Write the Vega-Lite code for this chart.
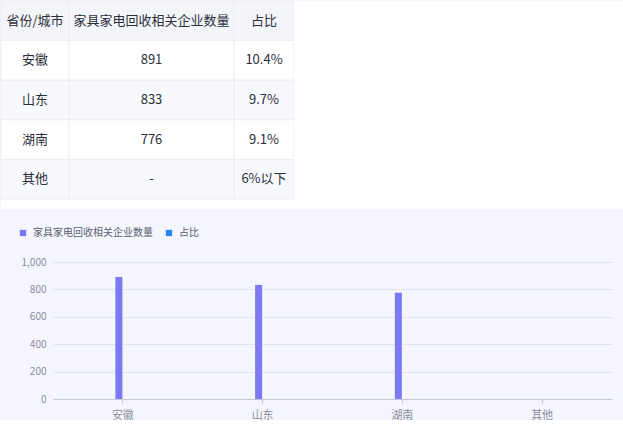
{
  "$schema": "https://vega.github.io/schema/vega-lite/v6.json",
  "background": "#f5f6fd",
  "padding": 0,
  "datasets": {
    "table": [
      {"行": 0, "省份": "省份/城市", "数量": "家具家电回收相关企业数量", "占比": "占比"},
      {"行": 1, "省份": "安徽", "数量": "891", "占比": "10.4%"},
      {"行": 2, "省份": "山东", "数量": "833", "占比": "9.7%"},
      {"行": 3, "省份": "湖南", "数量": "776", "占比": "9.1%"},
      {"行": 4, "省份": "其他", "数量": "-", "占比": "6%以下"}
    ],
    "bars": [
      {"省份": "安徽", "系列": "家具家电回收相关企业数量", "企业数量": 891},
      {"省份": "山东", "系列": "家具家电回收相关企业数量", "企业数量": 833},
      {"省份": "湖南", "系列": "家具家电回收相关企业数量", "企业数量": 776},
      {"省份": "其他", "系列": "家具家电回收相关企业数量", "企业数量": null}
    ]
  },
  "spacing": 19,
  "vconcat": [
    {
      "bounds": "flush",
      "spacing": 0,
      "hconcat": [
        {
          "width": 68, "height": 208,
          "view": {"fill": "#ffffff", "stroke": null},
          "data": {"name": "table"},
          "encoding": {"y": {"field": "行", "type": "ordinal", "axis": null, "scale": {"range": [0, 198], "paddingInner": 0, "paddingOuter": 0}}},
          "layer": [
            {"mark": {"type": "rect", "stroke": "#eceef4", "strokeWidth": 1},
             "encoding": {"fill": {"condition": [{"test": "datum['行'] == 0", "value": "#f4f5f9"}, {"test": "datum['行'] % 2 == 0", "value": "#f8f9fc"}], "value": "#ffffff"}}},
            {"mark": {"type": "text", "fontSize": 13, "color": "#2b2f3a"}, "encoding": {"text": {"field": "省份"}}}
          ]
        },
        {
          "width": 165, "height": 208,
          "view": {"fill": "#ffffff", "stroke": null},
          "data": {"name": "table"},
          "encoding": {"y": {"field": "行", "type": "ordinal", "axis": null, "scale": {"range": [0, 198], "paddingInner": 0, "paddingOuter": 0}}},
          "layer": [
            {"mark": {"type": "rect", "stroke": "#eceef4", "strokeWidth": 1},
             "encoding": {"fill": {"condition": [{"test": "datum['行'] == 0", "value": "#f4f5f9"}, {"test": "datum['行'] % 2 == 0", "value": "#f8f9fc"}], "value": "#ffffff"}}},
            {"mark": {"type": "text", "fontSize": 13, "color": "#2b2f3a"}, "encoding": {"text": {"field": "数量"}}}
          ]
        },
        {
          "width": 60, "height": 208,
          "view": {"fill": "#ffffff", "stroke": null},
          "data": {"name": "table"},
          "encoding": {"y": {"field": "行", "type": "ordinal", "axis": null, "scale": {"range": [0, 198], "paddingInner": 0, "paddingOuter": 0}}},
          "layer": [
            {"mark": {"type": "rect", "stroke": "#eceef4", "strokeWidth": 1},
             "encoding": {"fill": {"condition": [{"test": "datum['行'] == 0", "value": "#f4f5f9"}, {"test": "datum['行'] % 2 == 0", "value": "#f8f9fc"}], "value": "#ffffff"}}},
            {"mark": {"type": "text", "fontSize": 13, "color": "#2b2f3a"}, "encoding": {"text": {"field": "占比"}}}
          ]
        },
        {
          "width": 330, "height": 208,
          "view": {"fill": "#ffffff", "stroke": null},
          "data": {"values": [{}]},
          "mark": {"type": "text", "text": ""}
        }
      ]
    },
    {
      "width": 611, "height": 137,
      "data": {"name": "bars"},
      "mark": {"type": "bar", "size": 7, "xOffset": -4},
      "encoding": {
        "x": {"field": "省份", "type": "nominal", "title": null,
              "scale": {"domain": ["安徽", "山东", "湖南", "其他"], "range": [52, 611]},
              "axis": {"labelAngle": 0, "labelFontSize": 11, "labelColor": "#8a8c9e", "labelPadding": 6,
                       "domainColor": "#c5c8d6", "tickColor": "#c5c8d6", "tickSize": 4, "grid": false}},
        "y": {"field": "企业数量", "type": "quantitative", "title": null,
              "scale": {"domain": [0, 1000]},
              "axis": {"values": [0, 200, 400, 600, 800, 1000], "format": ",.0f", "domain": false, "ticks": false, "labelPadding": 7,
                       "offset": -52, "minExtent": 0,
                       "labelFontSize": 10, "labelColor": "#8a8c9e", "gridColor": "#e2e4ec"}},
        "color": {"field": "系列", "type": "nominal",
                  "scale": {"domain": ["家具家电回收相关企业数量", "占比"], "range": ["#7b79f3", "#2a87f4"]},
                  "legend": {"orient": "none", "legendX": 17, "legendY": -34, "direction": "horizontal", "title": null,
                             "symbolType": "square", "symbolSize": 40, "labelFontSize": 10, "labelColor": "#5b5e70",
                             "columnPadding": 11, "labelOffset": 5}}
      }
    }
  ],
  "resolve": {"legend": {"color": "independent"}},
  "config": {
    "view": {"stroke": null},
    "font": "Noto Sans CJK SC",
    "axis": {"labelFont": "Noto Sans CJK SC"},
    "legend": {"labelFont": "Noto Sans CJK SC"},
    "text": {"font": "Noto Sans CJK SC"}
  }
}
